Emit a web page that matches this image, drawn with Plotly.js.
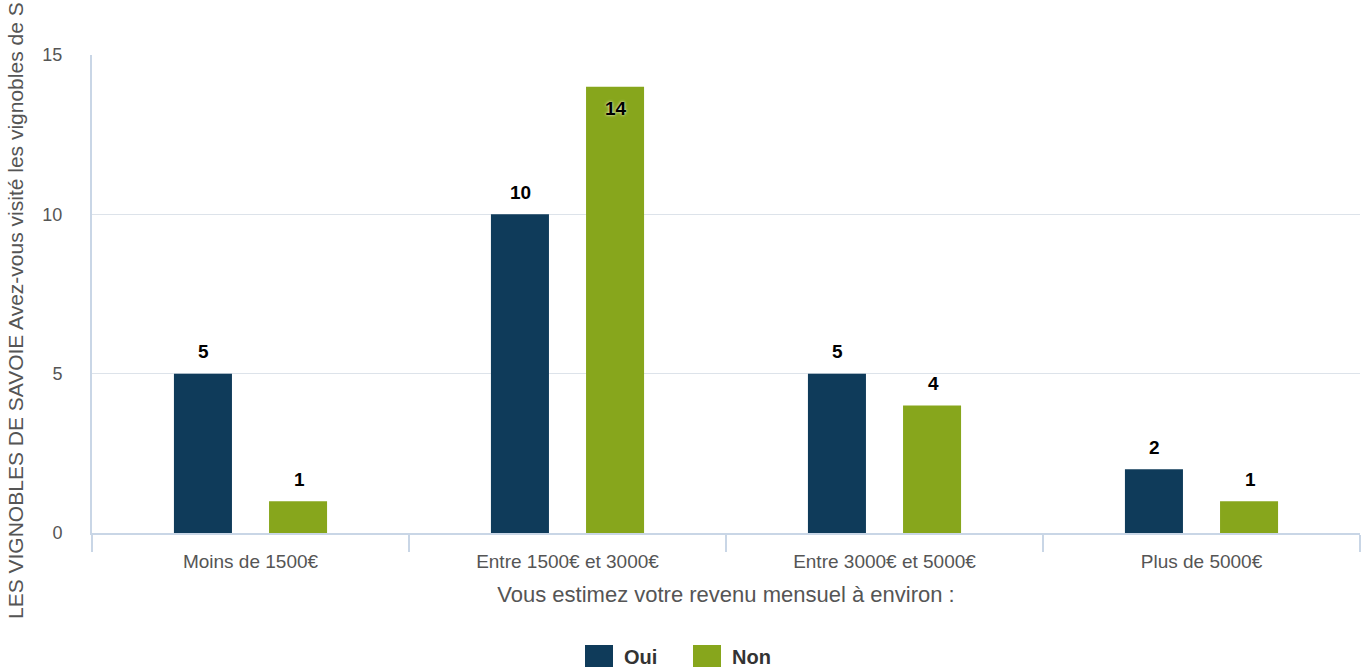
<!DOCTYPE html>
<html>
<head>
<meta charset="utf-8">
<script src="https://cdn.plot.ly/plotly-3.0.1.min.js"></script>
<style>html,body{margin:0;padding:0;background:#fff;}#chart{width:1367px;height:671px;}</style>
</head>
<body>
<div id="chart"></div>
<script>
const categories = ['Moins de 1500€', 'Entre 1500€ et 3000€', 'Entre 3000€ et 5000€', 'Plus de 5000€'];
const seriesNames = ['Oui', 'Non'];
const ouiValues = [5, 10, 5, 2];
const nonValues = [1, 14, 4, 1];
const seriesColors = ['#0f3b5a', '#87a61c'];
const yTitle = 'LES VIGNOBLES DE SAVOIE Avez-vous visité les vignobles de S';
const xTitle = 'Vous estimez votre revenu mensuel à environ :';

const W = 1367, H = 671;
const M = {l: 92, r: 7, t: 55, b: 138};
const pw = W - M.l - M.r, ph = H - M.t - M.b;
const px = x => (x - M.l) / pw;
const py = y => (H - M.b - y) / ph;

const FONT = 'Liberation Sans, Arial, sans-serif';
const series = [ouiValues, nonValues];

const traces = series.map((vals, i) => ({
  type: 'bar',
  name: seriesNames[i],
  x: categories,
  y: vals,
  marker: {color: seriesColors[i]},
  showlegend: false,
  hoverinfo: 'x+y+name'
}));

const bargap = 0.40;
const slotPx = (1 - bargap) * (pw / categories.length) / 2;
const annotations = [];
series.forEach((vals, i) => {
  const xs = (i === 0 ? -1 : 1) * slotPx / 2 + 1;
  vals.forEach((v, j) => {
    const inside = v > 13;
    annotations.push({
      x: categories[j], y: v, xref: 'x', yref: 'y',
      text: '<b>' + v + '</b>',
      showarrow: false,
      xshift: xs, yshift: inside ? -22 : 22,
      xanchor: 'center', yanchor: 'middle',
      font: {family: FONT, size: 19, color: '#000', shadow: '0px 0px 3px #ffffff'}
    });
  });
});

// y-axis title
annotations.push({
  text: yTitle, xref: 'paper', yref: 'paper',
  x: px(15), y: py(311), xanchor: 'center', yanchor: 'middle',
  textangle: -90, showarrow: false,
  font: {family: FONT, size: 21, color: '#555'}
});

// custom legend
const shapes = [];
const legendItems = [{sx: 585, tx: 622}, {sx: 693, tx: 730}];
legendItems.forEach((it, i) => {
  shapes.push({
    type: 'rect', xref: 'paper', yref: 'paper',
    x0: px(it.sx), x1: px(it.sx + 28), y0: py(667), y1: py(645),
    fillcolor: seriesColors[i], line: {width: 0}
  });
  annotations.push({
    text: '<b>' + seriesNames[i] + '</b>', xref: 'paper', yref: 'paper',
    x: px(it.tx), y: py(657), xanchor: 'left', yanchor: 'middle',
    showarrow: false,
    font: {family: FONT, size: 20, color: '#333'}
  });
});

const layout = {
  width: W, height: H,
  margin: M,
  paper_bgcolor: '#fff', plot_bgcolor: '#fff',
  barmode: 'group',
  bargap: bargap,
  bargroupgap: 0.39,
  font: {family: FONT, size: 18, color: '#555'},
  xaxis: {
    type: 'category',
    tickson: 'boundaries',
    ticks: 'outside', ticklen: 17, tickcolor: '#c9d6e6', tickwidth: 2,
    ticklabelstandoff: 10,
    showline: true, linecolor: '#c9d6e6', linewidth: 2,
    showgrid: false,
    tickfont: {family: FONT, size: 19, color: '#555'},
    title: {text: xTitle, font: {family: FONT, size: 22, color: '#555'}, standoff: 16}
  },
  yaxis: {
    range: [0, 15], dtick: 5, tick0: 0,
    showgrid: true, gridcolor: '#dde3ea', gridwidth: 1,
    zeroline: false,
    showline: true, linecolor: '#c9d6e6', linewidth: 2,
    ticks: 'outside', ticklen: 24, tickcolor: 'rgba(0,0,0,0)',
    tickfont: {family: FONT, size: 18, color: '#555'}
  },
  annotations: annotations,
  shapes: shapes
};

Plotly.newPlot('chart', traces, layout, {displayModeBar: false, responsive: false});
</script>
</body>
</html>
